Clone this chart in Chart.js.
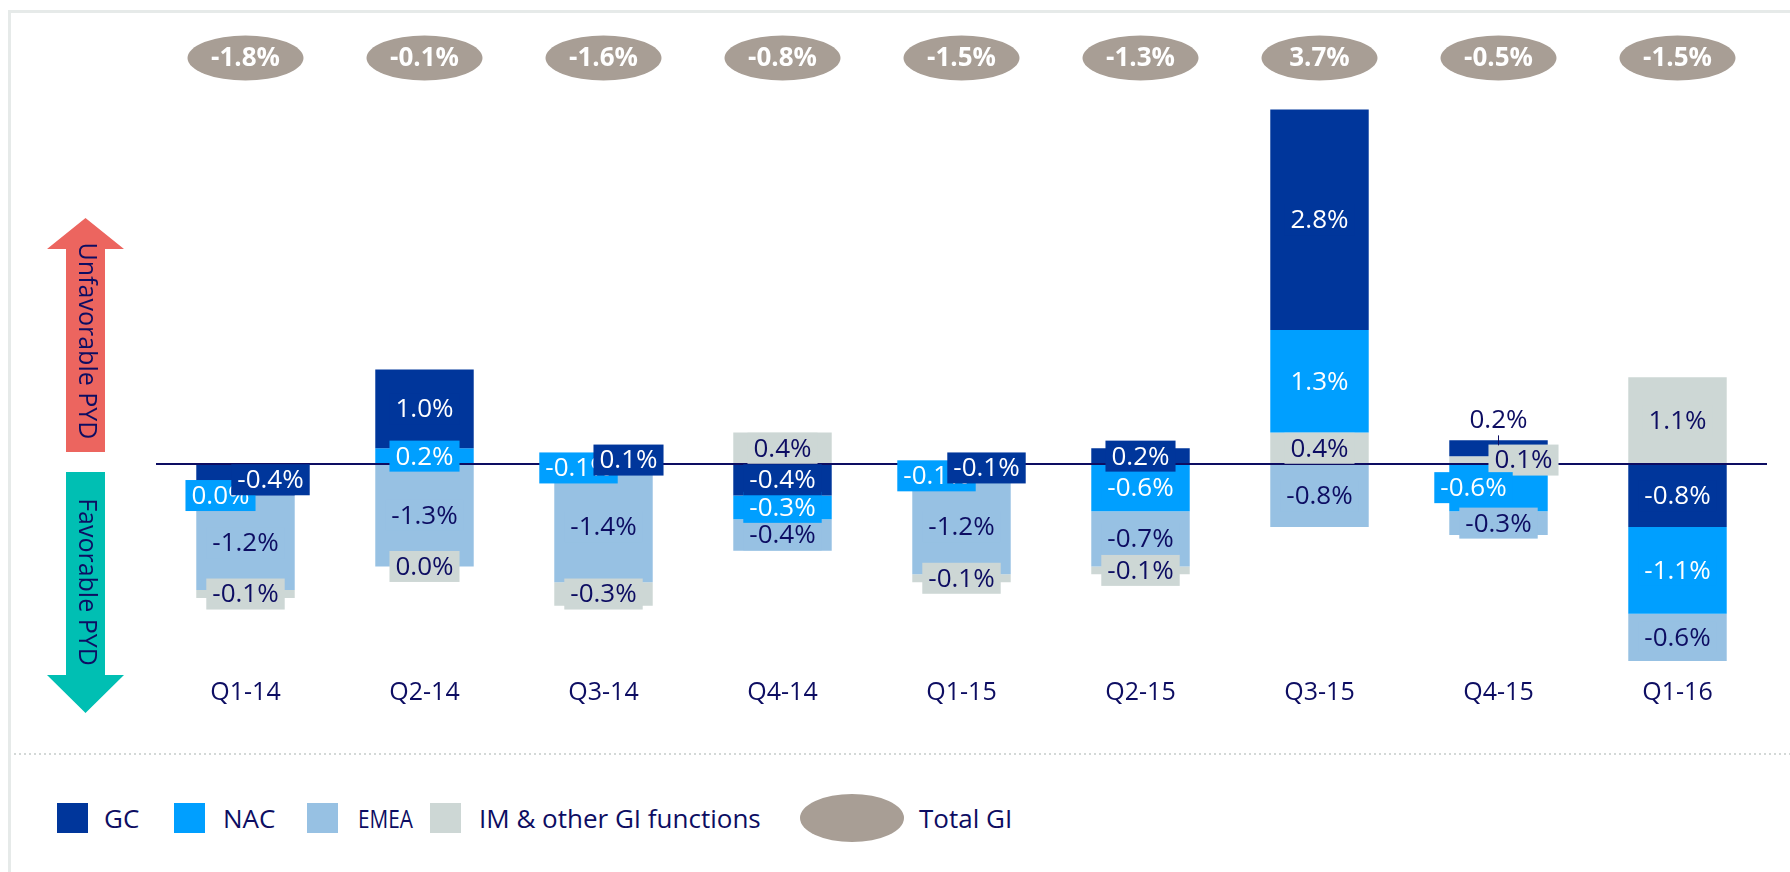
<!DOCTYPE html>
<html>
<head>
<meta charset="utf-8">
<title>PYD by region</title>
<script src="https://cdn.jsdelivr.net/npm/chart.js@4.4.1/dist/chart.umd.min.js"></script>
<style>
  body { margin: 0; background: #fff; font-family: 'Open Sans', sans-serif; color: #0d0d62; }
  #frameTop { position: absolute; left: 8px; top: 10px; width: 1782px; height: 3px; background: #e6eae9; }
  #frameLeft { position: absolute; left: 8px; top: 10px; width: 3px; height: 862px; background: #e6eae9; }
  #dots { position: absolute; left: 14px; right: 0; top: 753px; height: 2px;
          background: repeating-linear-gradient(90deg, #d3d8d7 0 2px, transparent 2px 5px); }
  #pydChart { position: absolute; left: 0; top: 0; }
  .lg { position: absolute; top: 818px; transform: translateY(-50%); font-size: 26px; white-space: nowrap; }
  .narrow { transform: translateY(-50%) scaleX(0.8); transform-origin: left center; }
  .sw { position: absolute; top: 803px; width: 31px; height: 30px; }
  .ell { position: absolute; top: 794px; width: 104px; height: 48px; border-radius: 50%; background: #a89e95; }
</style>
</head>
<body>
<div id="frameTop"></div>
<div id="frameLeft"></div>
<div id="dots"></div>
<canvas id="pydChart" width="1790" height="740"></canvas>

<div class="sw" style="left:57px;background:#00369b"></div><div class="lg" style="left:104px">GC</div>
<div class="sw" style="left:174px;background:#009fff"></div><div class="lg" style="left:223px">NAC</div>
<div class="sw" style="left:307px;background:#97c1e3"></div><div class="lg narrow" style="left:358px">EMEA</div>
<div class="sw" style="left:430px;background:#cdd7d5"></div><div class="lg" style="left:479px">IM &amp; other GI functions</div>
<div class="ell" style="left:800px"></div><div class="lg" style="left:919px">Total GI</div>

<script>
// quarters and PYD per region (% points)
const quarters = ['Q1-14', 'Q2-14', 'Q3-14', 'Q4-14', 'Q1-15', 'Q2-15', 'Q3-15', 'Q4-15', 'Q1-16'];
const gcValues   = [-0.4, 1.0, 0.1, -0.4, -0.1, 0.2, 2.8, 0.2, -0.8];
const nacValues  = [0.0, 0.2, -0.1, -0.3, -0.1, -0.6, 1.3, -0.6, -1.1];
const emeaValues = [-1.2, -1.3, -1.4, -0.4, -1.2, -0.7, -0.8, -0.3, -0.6];
const imValues   = [-0.1, 0.0, -0.3, 0.4, -0.1, -0.1, 0.4, 0.1, 1.1];
const totalGI    = [-1.8, -0.1, -1.6, -0.8, -1.5, -1.3, 3.7, -0.5, -1.5];

const seriesNames = ['GC', 'NAC', 'EMEA', 'IM & other GI functions'];
const seriesValues = [gcValues, nacValues, emeaValues, imValues];
const seriesColors = ['#00369b', '#009fff', '#97c1e3', '#cdd7d5'];
const labelColors = ['#ffffff', '#ffffff', '#0d0d62', '#0d0d62'];
const navy = '#0d0d62';

// where a crowded label was moved to in the original
const labelNudge = {
  '0:0': 'right', '1:0': 'left',
  '0:2': 'right', '1:2': 'left',
  '0:4': 'right', '1:4': 'left',
  '1:7': 'left', '3:7': 'right', '0:7': 'above'
};

// stack: positives grow up IM, EMEA, NAC, GC; negatives grow down GC, NAC, EMEA, IM
function stackRanges() {
  const ranges = seriesValues.map(() => []);
  quarters.forEach((q, i) => {
    let up = 0, down = 0;
    [3, 2, 1, 0].forEach(s => {
      const v = seriesValues[s][i];
      if (v > 0) { ranges[s][i] = [up, up + v]; up += v; }
    });
    [0, 1, 2, 3].forEach(s => {
      const v = seriesValues[s][i];
      if (v <= 0) { ranges[s][i] = [down + v, down]; down += v; }
    });
  });
  return ranges;
}
const ranges = stackRanges();

const fmt = v => v.toFixed(1) + '%';

const decorPlugin = {
  id: 'decor',
  beforeDraw(chart) {
    const ctx = chart.ctx;
    ctx.save();
    // unfavorable arrow (up)
    ctx.fillStyle = '#ec655f';
    ctx.beginPath();
    ctx.moveTo(85.5, 218); ctx.lineTo(124, 249); ctx.lineTo(105, 249); ctx.lineTo(105, 452);
    ctx.lineTo(66, 452); ctx.lineTo(66, 249); ctx.lineTo(47, 249); ctx.closePath(); ctx.fill();
    // favorable arrow (down)
    ctx.fillStyle = '#00bfb3';
    ctx.beginPath();
    ctx.moveTo(66, 472); ctx.lineTo(105, 472); ctx.lineTo(105, 675); ctx.lineTo(124, 675);
    ctx.lineTo(85.5, 713); ctx.lineTo(47, 675); ctx.lineTo(66, 675); ctx.closePath(); ctx.fill();
    ctx.fillStyle = navy;
    ctx.font = '25px "Open Sans"';
    ctx.textAlign = 'center';
    ctx.textBaseline = 'middle';
    [['Unfavorable PYD', 341], ['Favorable PYD', 582]].forEach(([t, y]) => {
      ctx.save();
      ctx.translate(86, y);
      ctx.rotate(Math.PI / 2);
      ctx.fillText(t, 0, 0);
      ctx.restore();
    });
    ctx.restore();
  },
  afterDatasetsDraw(chart) {
    const ctx = chart.ctx;
    const xs = chart.scales.x, ys = chart.scales.y;
    const area = chart.chartArea;
    ctx.save();
    // zero line
    const y0 = ys.getPixelForValue(0);
    ctx.strokeStyle = navy;
    ctx.lineWidth = 2;
    ctx.beginPath(); ctx.moveTo(area.left, y0); ctx.lineTo(area.right, y0); ctx.stroke();

    // value labels, drawn IM first so GC boxes end on top
    ctx.font = '26px "Open Sans"';
    ctx.textAlign = 'center';
    ctx.textBaseline = 'middle';
    [3, 2, 1, 0].forEach(s => {
      const meta = chart.getDatasetMeta(s);
      meta.data.forEach((bar, i) => {
        const v = seriesValues[s][i];
        const text = fmt(v);
        let cx = bar.x;
        let cy = (bar.y + bar.base) / 2;
        const nudge = labelNudge[s + ':' + i];
        if (nudge === 'above') {
          const top = Math.min(bar.y, bar.base);
          ctx.strokeStyle = navy; ctx.lineWidth = 1;
          ctx.beginPath(); ctx.moveTo(cx, top - 5); ctx.lineTo(cx, top + 5); ctx.stroke();
          ctx.fillStyle = navy;
          ctx.fillText(text, cx, top - 20);
          return;
        }
        if (nudge === 'left') cx -= 25;
        if (nudge === 'right') cx += 25;
        const w = ctx.measureText(text).width + 12;
        const h = 31;
        ctx.fillStyle = seriesColors[s];
        ctx.fillRect(cx - w / 2, cy - h / 2, w, h);
        ctx.fillStyle = labelColors[s];
        ctx.fillText(text, cx, cy + 1);
      });
    });

    // Total GI ellipses
    ctx.font = 'bold 26px "Open Sans"';
    totalGI.forEach((v, i) => {
      const x = xs.getPixelForValue(i);
      ctx.fillStyle = '#a89e95';
      ctx.beginPath();
      ctx.ellipse(x, 58, 58, 22.5, 0, 0, Math.PI * 2);
      ctx.fill();
      ctx.fillStyle = '#ffffff';
      ctx.fillText(fmt(v), x, 59);
    });
    ctx.restore();
  }
};

const ctx = document.getElementById('pydChart').getContext('2d');
new Chart(ctx, {
  type: 'bar',
  data: {
    labels: quarters,
    datasets: seriesNames.map((name, s) => ({
      label: name,
      data: ranges[s],
      backgroundColor: seriesColors[s],
      borderWidth: 0,
      grouped: false,
      barPercentage: 0.55,
      categoryPercentage: 1
    }))
  },
  options: {
    responsive: false,
    animation: false,
    layout: { padding: { top: 101.5, bottom: 11.1, left: 156, right: 23 } },
    plugins: { legend: { display: false }, tooltip: { enabled: false } },
    scales: {
      x: {
        grid: { display: false, drawTicks: false },
        border: { display: false },
        ticks: { color: navy, font: { family: 'Open Sans', size: 25 }, padding: 9 },
        afterFit(scale) { scale.height = 60; }
      },
      y: { display: false, min: -2.6, max: 4.6 }
    }
  },
  plugins: [decorPlugin]
});
</script>
</body>
</html>
